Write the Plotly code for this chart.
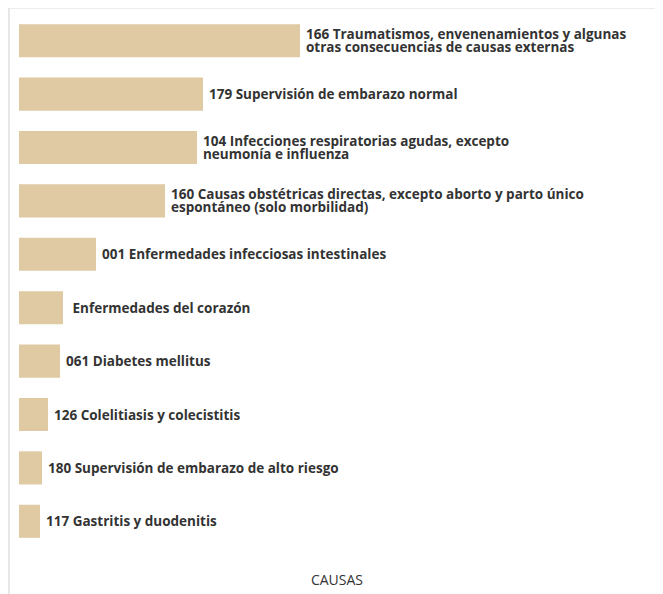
import plotly.graph_objects as go

# causas, de mayor a menor (arriba -> abajo)
causas = [
    "166 Traumatismos, envenenamientos y algunas<br>otras consecuencias de causas externas",
    "179 Supervisión de embarazo normal",
    "104 Infecciones respiratorias agudas, excepto<br>neumonía e influenza",
    "160 Causas obstétricas directas, excepto aborto y parto único<br>espontáneo (solo morbilidad)",
    "001 Enfermedades infecciosas intestinales",
    " Enfermedades del corazón",
    "061 Diabetes mellitus",
    "126 Colelitiasis y colecistitis",
    "180 Supervisión de embarazo de alto riesgo",
    "117 Gastritis y duodenitis",
]
casos = [281, 184, 178, 146, 77, 44, 41, 29, 23, 21]

BAR = "#DFCAA3"
INK = "#333333"
FONT = "Open Sans"

fig = go.Figure(
    go.Bar(
        x=casos,
        y=list(range(len(causas))),
        orientation="h",
        marker=dict(color=BAR, line=dict(width=0)),
        width=0.62,
        hoverinfo="skip",
    )
)

# etiquetas a la derecha de cada barra (una anotación por línea para un interlineado compacto)
for i, (lab, val) in enumerate(zip(causas, casos)):
    lines = lab.split("<br>")
    n = len(lines)
    for j, ln in enumerate(lines):
        fig.add_annotation(
            x=val, y=i, xref="x", yref="y",
            text=ln, showarrow=False,
            xanchor="left", yanchor="middle", align="left",
            xshift=4, yshift=(n - 1) * 6.5 - j * 13,
            font=dict(family=FONT, size=13.5, color=INK, weight=700),
        )

# borde de la tarjeta
line = dict(color="#e6e6e6", width=2)
fig.add_shape(type="line", xref="paper", yref="paper", x0=-0.016, x1=1.2, y0=1.0118, y1=1.0118, line=line)
fig.add_shape(type="line", xref="paper", yref="paper", x0=-0.016, x1=-0.016, y0=1.0118, y1=-0.2, line=line)

fig.update_layout(
    width=655, height=586,
    margin=dict(l=11, r=8, t=6, b=46),
    paper_bgcolor="white", plot_bgcolor="white",
    showlegend=False,
    font=dict(family=FONT, color=INK),
    xaxis=dict(
        range=[0, 636], showgrid=False, zeroline=False, showticklabels=False,
        showline=False, ticks="",
        title=dict(text="CAUSAS", font=dict(family=FONT, size=14, color=INK, weight=500), standoff=27),
    ),
    yaxis=dict(
        range=[len(causas) - 0.5, -0.5], showgrid=False, zeroline=False,
        showticklabels=False, showline=False, ticks="",
    ),
)

fig.write_html("out.html")
